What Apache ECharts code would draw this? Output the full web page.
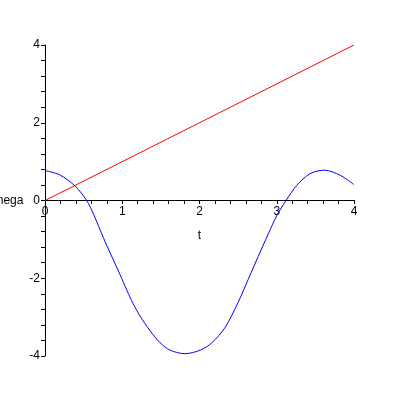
<!DOCTYPE html>
<html>
<head>
<meta charset="utf-8">
<script src="https://cdn.jsdelivr.net/npm/echarts@6/dist/echarts.min.js"></script>
<style>
  html, body { margin: 0; padding: 0; background: #fff; }
  #chart { width: 400px; height: 400px; }
</style>
</head>
<body>
<div id="chart"></div>
<script>
// values
const tValues = [0, 0.19, 0.39, 0.54, 0.63, 0.71, 0.80, 0.885, 0.97, 1.06, 1.14, 1.23, 1.36, 1.49, 1.62, 1.81, 2.01, 2.16, 2.33, 2.50, 2.63, 2.76, 2.89, 3.00, 3.12, 3.26, 3.43, 3.62, 3.82, 4.0];
const omegaValues = [0.77, 0.66, 0.37, 0, -0.36, -0.74, -1.16, -1.53, -1.90, -2.31, -2.65, -2.97, -3.35, -3.66, -3.85, -3.94, -3.85, -3.66, -3.27, -2.62, -2.03, -1.44, -0.86, -0.39, 0, 0.39, 0.69, 0.78, 0.65, 0.41];
const lineT = [0, 4];
const lineValues = [0, 4];

const font = 'Liberation Sans';
const black = '#000';

const chart = echarts.init(document.getElementById('chart'));

// second grid ends at the zero line so the t axis sits there with its labels
const option = {
    animation: false,
    backgroundColor: '#fff',
    grid: [
        { left: 45, right: 46, top: 45, bottom: 44, outerBoundsMode: 'none', containLabel: false },
        { left: 45, right: 46, top: 45, height: 155, outerBoundsMode: 'none', containLabel: false }
    ],
    xAxis: [
        {
            gridIndex: 0,
            type: 'value',
            min: 0, max: 4, interval: 1,
            show: false
        },
        {
            gridIndex: 1,
            type: 'value',
            min: 0, max: 4, interval: 1,
            name: 't',
            nameLocation: 'middle',
            nameGap: 30,
            nameTextStyle: { color: black, fontFamily: font, fontSize: 12 },
            axisLine: { onZero: false, lineStyle: { color: black, width: 1 } },
            axisTick: { show: true, length: 4, lineStyle: { color: black } },
            minorTick: { show: true, splitNumber: 5, length: 4, lineStyle: { color: black } },
            axisLabel: { color: black, fontFamily: font, fontSize: 12, margin: 6 },
            splitLine: { show: false }
        }
    ],
    yAxis: [
        {
            gridIndex: 0,
            type: 'value',
            min: -4, max: 4, interval: 2,
            name: 'omega',
            nameLocation: 'middle',
            nameRotate: 0,
            nameGap: 20,
            nameTextStyle: { color: black, fontFamily: font, fontSize: 12 },
            axisLine: { show: true, lineStyle: { color: black, width: 1 } },
            axisTick: { show: true, length: 4, lineStyle: { color: black } },
            minorTick: { show: true, splitNumber: 5, length: 4, lineStyle: { color: black } },
            axisLabel: { color: black, fontFamily: font, fontSize: 12, margin: 5 },
            splitLine: { show: false }
        },
        {
            gridIndex: 1,
            type: 'value',
            min: 0, max: 4,
            show: false
        }
    ],
    series: [
        {
            type: 'line',
            xAxisIndex: 0, yAxisIndex: 0,
            data: lineT.map((t, i) => [t, lineValues[i]]),
            showSymbol: false,
            lineStyle: { color: '#ff0000', width: 1 }
        },
        {
            type: 'line',
            xAxisIndex: 0, yAxisIndex: 0,
            data: tValues.map((t, i) => [t, omegaValues[i]]),
            smooth: 0.3,
            showSymbol: false,
            lineStyle: { color: '#0000ff', width: 1 }
        }
    ]
};

chart.setOption(option);
</script>
</body>
</html>
